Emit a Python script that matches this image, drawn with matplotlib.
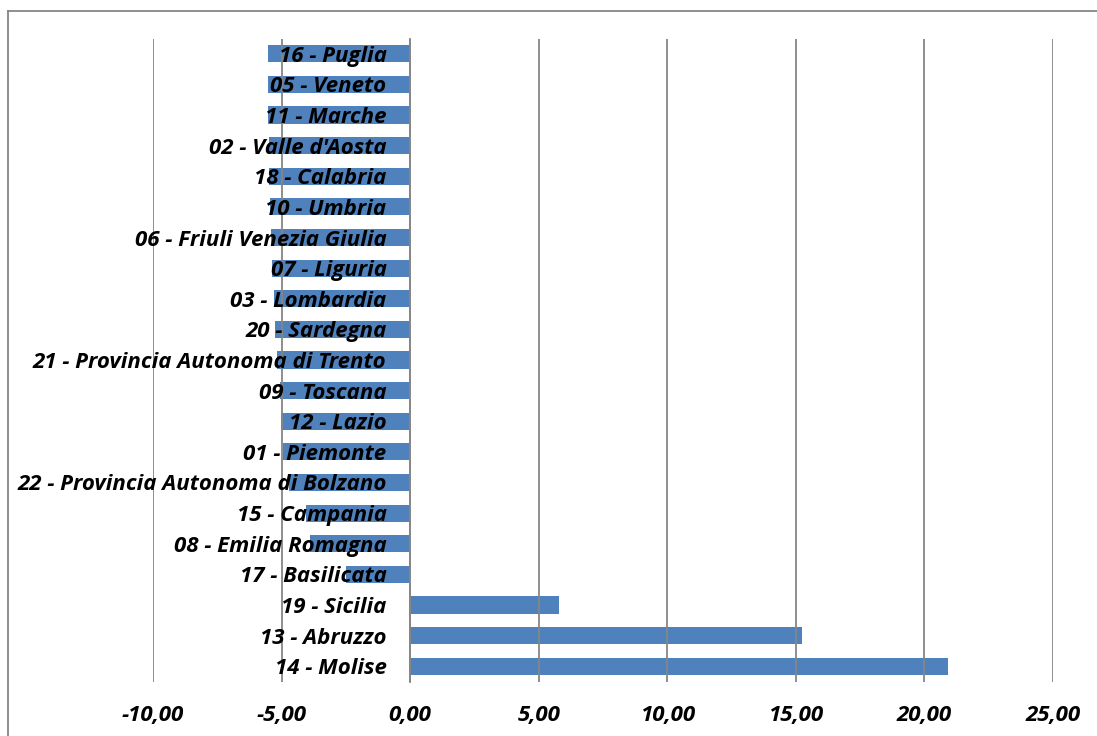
import matplotlib.pyplot as plt
from matplotlib.lines import Line2D
from matplotlib.ticker import FuncFormatter

# valori (dall'alto verso il basso)
regioni = [
    "16 - Puglia", "05 - Veneto", "11 - Marche", "02 - Valle d'Aosta",
    "18 - Calabria", "10 - Umbria", "06 - Friuli Venezia Giulia",
    "07 - Liguria", "03 - Lombardia", "20 - Sardegna",
    "21 - Provincia Autonoma di Trento", "09 - Toscana", "12 - Lazio",
    "01 - Piemonte", "22 - Provincia Autonoma di Bolzano", "15 - Campania",
    "08 - Emilia Romagna", "17 - Basilicata", "19 - Sicilia",
    "13 - Abruzzo", "14 - Molise",
]
valori = [
    -5.54, -5.53, -5.52, -5.50, -5.47, -5.45, -5.40, -5.38, -5.28, -5.25,
    -5.19, -5.06, -5.03, -4.95, -4.73, -4.05, -3.89, -2.49, 5.79, 15.25, 20.93,
]
x_ticks = [-10, -5, 0, 5, 10, 15, 20, 25]

plt.rcParams["font.family"] = ["Open Sans", "DejaVu Sans"]

fig = plt.figure(figsize=(10.97, 7.36), dpi=100)
ax = fig.add_axes([153 / 1097, 1 - 681.5 / 736, 900 / 1097, 643 / 736])

y = list(range(len(regioni)))
ax.barh(y, valori, height=0.56, color="#4F81BD", zorder=2)

ax.set_ylim(len(regioni) - 0.5, -0.5)
ax.set_xlim(-10, 25)
ax.set_xticks(x_ticks)
ax.xaxis.set_major_formatter(FuncFormatter(lambda v, p: f"{v:.2f}".replace(".", ",")))
ax.set_axisbelow(False)  # griglia ed etichette sopra le barre
ax.grid(axis="x", color="#868686", lw=1.3)

for s in ["top", "right", "bottom"]:
    ax.spines[s].set_visible(False)
ax.spines["left"].set_position(("data", 0))
ax.spines["left"].set_color("#868686")
ax.spines["left"].set_linewidth(1.3)

ax.set_yticks(y)
ax.set_yticklabels(regioni)
ax.tick_params(axis="y", length=0, pad=17)
ax.tick_params(axis="x", length=0, pad=17)
for lab in ax.get_yticklabels() + ax.get_xticklabels():
    lab.set_fontsize(16)
    lab.set_fontweight("bold")
    lab.set_fontstyle("italic")

# cornice esterna del grafico
fig.add_artist(Line2D([8 / 1097, 8 / 1097], [0, 1 - 11 / 736], color="#868686", lw=1.3))
fig.add_artist(Line2D([8 / 1097, 1], [1 - 11 / 736, 1 - 11 / 736], color="#868686", lw=1.3))

fig.savefig("out.png", dpi=100)
